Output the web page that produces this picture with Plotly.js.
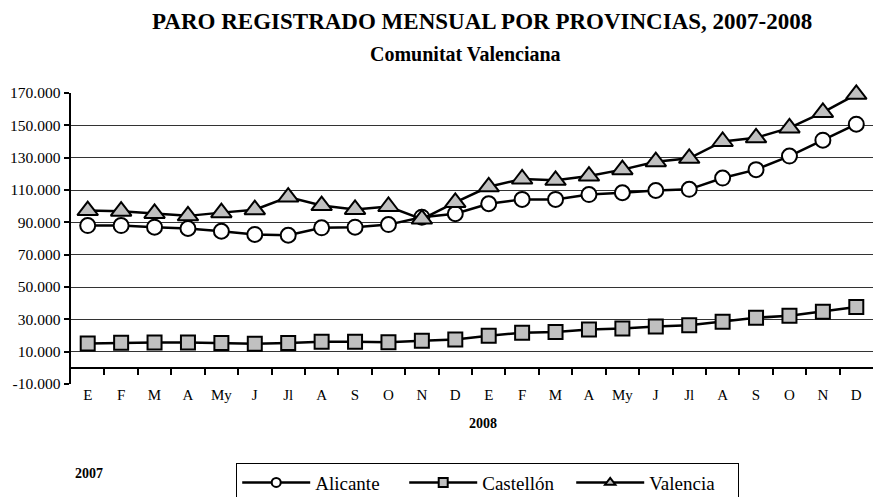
<!DOCTYPE html>
<html><head><meta charset="utf-8">
<script src="https://cdn.plot.ly/plotly-3.0.1.min.js"></script>
<style>body{margin:0;background:#fff}#chart{width:873px;height:497px}</style>
</head><body><div id="chart"></div>
<script>
const months = ['E','F','M','A','My','J','Jl','A','S','O','N','D','E','F','M','A','My','J','Jl','A','S','O','N','D'];
const alicante = [88000,88000,87000,86200,84500,82500,82000,86600,87000,88600,93200,95300,101500,104200,104200,107200,108300,109700,110400,117400,122600,131000,140800,150700];
const castellon = [15100,15500,15700,15700,15300,14900,15300,16100,16100,15900,16800,17600,19900,21700,22100,23700,24300,25600,26400,28500,31000,32200,34700,37600];
const valencia = [97300,96900,95500,94000,96000,97800,105600,100400,98000,99800,92000,102300,112000,116800,116000,118600,122600,127500,129600,140000,142300,148400,158000,169200];
const seriesNames = ['Alicante','Castellón','Valencia'];
const yTickVals = [-10000,10000,30000,50000,70000,90000,110000,130000,150000,170000];
const yTickText = ['-10.000','10.000','30.000','50.000','70.000','90.000','110.000','130.000','150.000','170.000'];
const titleText = 'PARO REGISTRADO MENSUAL POR PROVINCIAS, 2007-2008';
const subtitleText = 'Comunitat Valenciana';
const yearLabels = ['2007','2008'];

const idx = months.map((_, i) => i);
const boundaries = idx.slice(0, -1).map(i => i + 0.5);
const yMin = yTickVals[0], yMax = yTickVals[yTickVals.length - 1];
const zeroFrac = (0 - yMin) / (yMax - yMin);
const serif = 'Liberation Serif';

const lineStyle = {color: '#000', width: 2.5};
const markerStyles = [
  {symbol: 'circle', color: '#fff'},
  {symbol: 'square', color: '#c0c0c0'},
  {symbol: 'triangle-up', color: '#c0c0c0'}
];
const plotSizes = [15, 14, 18];
const seriesData = [alicante, castellon, valencia];

const traces = [];
seriesData.forEach((vals, k) => {
  traces.push({x: idx, y: vals, name: seriesNames[k], type: 'scatter', mode: 'lines+markers',
    cliponaxis: false, showlegend: false, hoverinfo: 'skip', line: lineStyle,
    marker: {symbol: markerStyles[k].symbol, size: plotSizes[k], color: markerStyles[k].color,
             line: {color: '#000', width: 2}}});
});
seriesData.forEach((vals, k) => {
  traces.push({x: [null], y: [null], name: seriesNames[k], type: 'scatter', mode: 'lines+markers',
    showlegend: true, hoverinfo: 'skip', line: {color: '#000', width: 2.5},
    marker: {symbol: markerStyles[k].symbol, size: 9, color: markerStyles[k].color,
             line: {color: '#000', width: 2}}});
});
traces.push({x: [], y: [], xaxis: 'x2', yaxis: 'y', showlegend: false, hoverinfo: 'skip', type: 'scatter'});

const layout = {
  width: 873, height: 497,
  margin: {l: 71, r: 0, t: 93, b: 113, autoexpand: false},
  paper_bgcolor: '#fff', plot_bgcolor: '#fff',
  font: {family: serif, color: '#000', size: 15},
  showlegend: true,
  xaxis: {type: 'linear', range: [-0.5, 23.5], tickvals: idx, ticktext: months, ticks: '',
          showline: false, showgrid: false, zeroline: false, tickfont: {size: 15, family: serif},
          anchor: 'y', fixedrange: true},
  xaxis2: {type: 'linear', overlaying: 'x', anchor: 'free', position: zeroFrac, range: [-0.5, 23.5],
           tickvals: boundaries, ticks: 'outside', ticklen: 6, tickwidth: 2, tickcolor: '#000',
           showline: true, linewidth: 2.5, linecolor: '#000', showticklabels: false,
           showgrid: false, zeroline: false, fixedrange: true},
  yaxis: {range: [yMin, yMax], tickvals: yTickVals, ticktext: yTickText, showgrid: true,
          gridcolor: '#333', gridwidth: 1, showline: true, linewidth: 2.5, linecolor: '#000',
          ticks: 'outside', ticklen: 5, tickwidth: 2, tickcolor: '#000', zeroline: false,
          tickfont: {size: 15.5, family: serif}, fixedrange: true},
  legend: {orientation: 'h', x: 0.206, xanchor: 'left', y: -0.27, yanchor: 'top',
           bordercolor: '#000', borderwidth: 1, bgcolor: '#fff',
           font: {size: 19, family: serif, color: '#000'}, entrywidth: 84, itemwidth: 68},
  annotations: [
    {text: '<b>' + titleText + '</b>', xref: 'paper', yref: 'paper', x: 0.512, y: 1.244,
     xanchor: 'center', yanchor: 'middle', showarrow: false, font: {size: 23, family: serif}},
    {text: '<b>' + subtitleText + '</b>', xref: 'paper', yref: 'paper', x: 0.4925, y: 1.135,
     xanchor: 'center', yanchor: 'middle', showarrow: false, font: {size: 20, family: serif}},
    {text: '<b>' + yearLabels[1] + '</b>', xref: 'paper', yref: 'paper', x: 0.514, y: -0.137,
     xanchor: 'center', yanchor: 'middle', showarrow: false, font: {size: 14, family: serif}},
    {text: '<b>' + yearLabels[0] + '</b>', xref: 'paper', yref: 'paper', x: 0.022, y: -0.309,
     xanchor: 'center', yanchor: 'middle', showarrow: false, font: {size: 14, family: serif}}
  ]
};
Plotly.newPlot('chart', traces, layout, {displayModeBar: false, staticPlot: true});
</script></body></html>
